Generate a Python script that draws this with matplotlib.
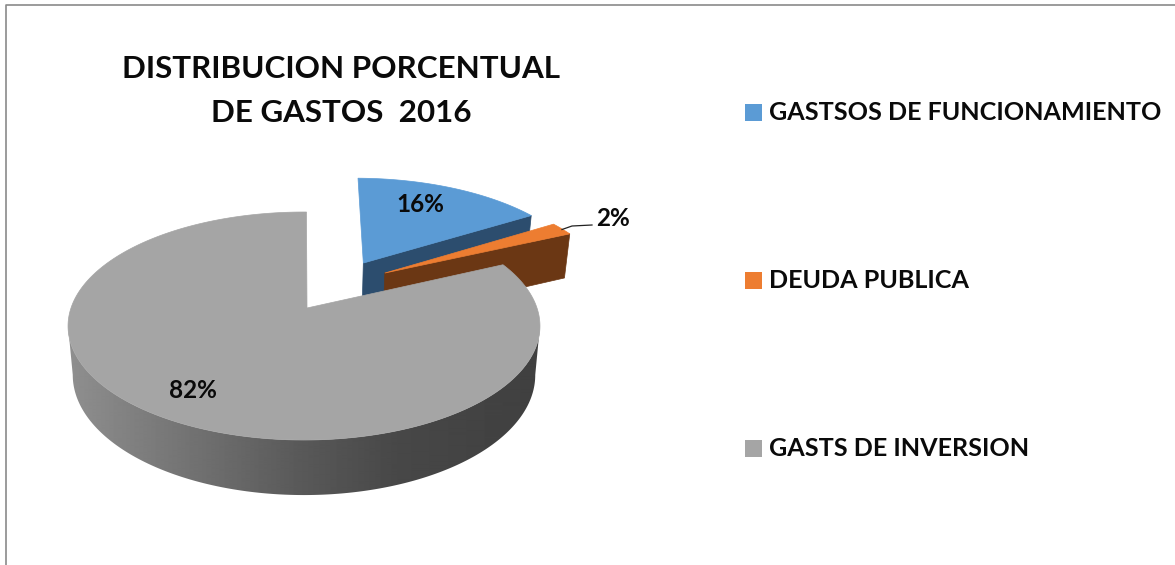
import numpy as np
import matplotlib
matplotlib.use('Agg')
import matplotlib.pyplot as plt
from matplotlib.patches import Polygon, Rectangle

categories = ['GASTSOS DE FUNCIONAMIENTO', 'DEUDA PUBLICA', 'GASTS DE INVERSION']
shares = [16, 2, 82]
share_labels = ['16%', '2%', '82%']
title = 'DISTRIBUCION PORCENTUAL\nDE GASTOS  2016'

top_colors = ['#5B9BD5', '#ED7D31', '#A5A5A5']
wall_colors = ['#2C4D6E', '#6B3714', '#5A5A5A']
explode = [(0.272, 0.432), (0.365, 0.331), (0, 0)]

plt.rcParams['font.family'] = ['Lato', 'DejaVu Sans']

# pie geometry in picture pixels
cx, cy = 304, 326
rx, ry = 233, 114
persp = 0.158
mid = 18
wall_s, wall_d = 1.053, 49
first_angle = 89.3


def project(x, u, bottom=False):
    # flat disc -> screen, with the front of the pie a bit bigger than the back
    w = 1 + persp * u
    sx = rx * x / w
    sv = (ry * u + mid) / w
    if bottom:
        sx = sx * 0.98
        sv = sv * wall_s - wall_d
    return cx + sx, cy - sv


def rim(a0, a1, off, bottom=False):
    a = np.radians(np.linspace(a0, a1, 300))
    return project(off[0] + np.cos(a), off[1] + np.sin(a), bottom)


fig = plt.figure(figsize=(11.75, 5.65), dpi=100, facecolor='white')
ax = fig.add_axes([0, 0, 1, 1])
ax.set_xlim(0, 1175)
ax.set_ylim(565, 0)
ax.axis('off')

# frame of the pasted picture
ax.plot([6, 6, 1175], [565, 4.5, 4.5], color='#8a8a8a', lw=1.2)

# angles go clockwise from 12 o'clock
ends = first_angle - np.cumsum(shares) / np.sum(shares) * 360
starts = np.r_[first_angle, ends[:-1]]

# blue and orange: inner cut face first, then the top
for i in [0, 1]:
    ax0, ay0 = project(explode[i][0], explode[i][1])
    bx0, by0 = project(explode[i][0], explode[i][1], True)
    e = np.radians(ends[i])
    ax1, ay1 = project(explode[i][0] + np.cos(e), explode[i][1] + np.sin(e))
    bx1, by1 = project(explode[i][0] + np.cos(e), explode[i][1] + np.sin(e), True)
    ax.fill([ax0, ax1, bx1, bx0], [ay0, ay1, by1, by0], color=wall_colors[i], lw=0.5, zorder=2)
    rx_, ry_ = rim(starts[i], ends[i], explode[i])
    ax.fill(np.r_[ax0, rx_], np.r_[ay0, ry_], color=top_colors[i], lw=0.5, zorder=3)

# gray slice: wall along the front with a left to right shade, then the top
shade_x = [70, 200, 300, 400, 540]
shade_v = [0.56, 0.44, 0.35, 0.28, 0.25]
xs = np.linspace(60, 550, 490)
grad = np.interp(xs, shade_x, shade_v).reshape(1, -1)
# -9 and -171 are the widest points of the ellipse, the wall is seen between them
fx, fy = rim(-9, -171, explode[2])
gx, gy = rim(-9, -171, explode[2], True)
wall = Polygon(np.c_[np.r_[fx, gx[::-1]], np.r_[fy, gy[::-1]]], closed=True,
               facecolor='none', edgecolor='none', transform=ax.transData)
ax.add_patch(wall)
im = ax.imshow(grad, extent=(60, 550, 510, 300), cmap='gray', vmin=0, vmax=1,
               aspect='auto', zorder=4, interpolation='bilinear')
im.set_clip_path(wall)
ax.set_xlim(0, 1175)
ax.set_ylim(565, 0)

tx, ty = rim(starts[2], ends[2], explode[2])
ax0, ay0 = project(0, 0)
ax.fill(np.r_[ax0 + 3, tx], np.r_[ay0, ty], color=top_colors[2], lw=0.5, zorder=5)

ax.plot([562, 572, 592], [229.5, 226, 225], color='#222222', lw=0.9, zorder=6)

ax.text(341, 91, title, ha='center', va='center', fontsize=22.6, fontweight='bold',
        linespacing=1.7, color='#0a0a0a', zorder=7)

label_pos = [(420, 204), (613, 218), (193, 391)]
for s, (x, y) in zip(share_labels, label_pos):
    ax.text(x, y, s, ha='center', va='center', fontsize=17.5, fontweight='bold', color='#0a0a0a', zorder=7)

legend_y = [112, 280, 448]
for c, col, y in zip(categories, top_colors, legend_y):
    ax.add_patch(Rectangle((745, y - 8), 17, 17, facecolor=col, edgecolor='none', zorder=7))
    ax.text(769, y, c, ha='left', va='center', fontsize=18.1, fontweight='bold', color='#0a0a0a', zorder=7)

fig.savefig('out.png', dpi=100, facecolor='white')
